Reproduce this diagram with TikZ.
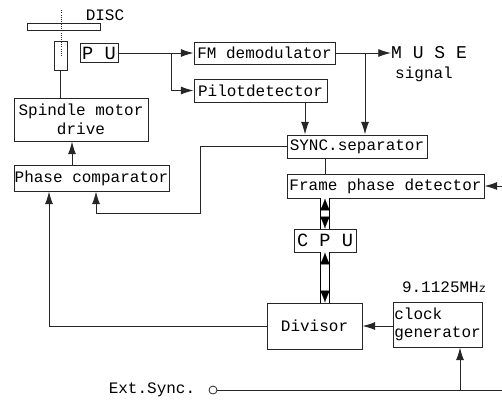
\documentclass[tikz,border=0pt]{standalone}
\usepackage{fontspec}
\setmainfont{Liberation Mono}
\usetikzlibrary{arrows.meta, positioning, calc}
\def\px{0.75pt} % one reference pixel
\begin{document}
\begin{tikzpicture}[
  x=0.75pt, y=-0.75pt,
  blockbox/.style={draw=black!85, line width=0.7pt, font=\fontsize{12}{14}\selectfont, inner sep=0pt, align=center},
  sigline/.style={draw=black!85, line width=0.7pt},
  sigarrow/.style={sigline, -{Latex[length=9.5pt, width=6pt]}},
  busrail/.style={draw=black, line width=0.8pt, double=white, double distance=6.6pt},
  bustip/.style={draw=white, line width=0.1pt, {Latex[black, length=9pt, width=7.4pt]}-{Latex[black, length=9pt, width=7.4pt]}},
  plainlabel/.style={font=\fontsize{12}{14}\selectfont, inner sep=0pt},
]
\useasboundingbox (0,0) rectangle (502,401);

% Disc and pickup
\node[draw=black!85, line width=0.7pt, inner sep=0pt, minimum width=73*\px, minimum height=7*\px] (disc) at (63.5,26.5) {};
\node[draw=black!85, line width=0.7pt, inner sep=0pt, minimum width=13*\px, minimum height=29*\px] (spindle) at (60.5,55.5) {};
\coordinate (axistop) at (61,10);
\coordinate (axisend) at (61,56);
\draw[sigline, densely dotted] (axistop) -- (axisend);
\node[plainlabel] (disclabel) at (105,15) {DISC};

% Blocks
\node[blockbox, minimum width=38*\px, minimum height=19*\px, font=\fontsize{14}{16}\selectfont] (pu) at (99,53) {P U};
\node[blockbox, minimum width=141*\px, minimum height=22*\px] (fm) at (264.5,53) {FM demodulator};
\node[blockbox, minimum width=133*\px, minimum height=23*\px] (pilot) at (260.5,90.5) {Pilotdetector};
\node[blockbox, minimum width=140*\px, minimum height=23*\px] (sync) at (357,146.5) {SYNC.separator};
\node[blockbox, minimum width=197*\px, minimum height=24*\px] (frame) at (385.5,186) {Frame phase detector};
\node[blockbox, minimum width=62*\px, minimum height=23*\px, font=\fontsize{14}{16}\selectfont] (cpu) at (325,240.5) {C P U};
\node[blockbox, minimum width=95*\px, minimum height=46*\px] (divisor) at (314.5,326) {Divisor};
\node[blockbox, minimum width=89*\px, minimum height=45*\px, align=left] (clock) at (437.5,324.5) {clock\\generator};
\node[blockbox, minimum width=134*\px, minimum height=43*\px] (motor) at (81,119.5) {Spindle motor\\drive};
\node[blockbox, minimum width=155*\px, minimum height=26*\px] (phase) at (91.5,178) {Phase comparator};

% Labels
\node[plainlabel, font=\fontsize{13.5}{16}\selectfont] (muse) at (429,53) {M U S E};
\node[plainlabel] (signal) at (424,74) {signal};
\node[plainlabel] (mhz) at (444,287) {9.1125MH{\fontsize{9}{10}\selectfont z}};
\node[plainlabel] (ext) at (152,390) {Ext.Sync.};
\node[circle, draw=black!85, line width=0.6pt, inner sep=0pt, minimum size=8*\px] (extin) at (213,390) {};

% Helper points
\coordinate (pubranch) at (171,53);
\coordinate (fmbranch) at (365,53);
\coordinate (pilotdown) at (305,102);
\coordinate (syncdown) at (325,158);
\coordinate (phaseup) at (72,165);
\coordinate (phasea) at (49,327);
\coordinate (phaseb) at (96,213);
\coordinate (phasec) at (200,213);
\coordinate (clkin) at (460,390);
\coordinate (extend) at (502,390);
\coordinate (frameext) at (502,186);

% Upper signal path
\draw[sigline] (spindle.south) -- (spindle.south |- motor.north);
\draw[sigarrow] (pu.east) -- (fm.west);
\draw[sigarrow] (pubranch) |- (pilot.west);
\draw[sigarrow] (fm.east) -- (muse.west);
\draw[sigarrow] (fmbranch) -- (fmbranch |- sync.north);
\draw[sigarrow] (pilotdown) -- (pilotdown |- sync.north);
\draw[sigline] (syncdown) -- (syncdown |- frame.north);
\draw[sigarrow] (frameext) -- (frame.east);

% Feedback to the motor
\draw[sigarrow] (phaseup) -- (phaseup |- motor.south);
\draw[sigarrow] (sync.west) -| (phasec) -- (phaseb) -- (phaseb |- phase.south);
\draw[sigarrow] (divisor.west) -| (phasea |- phase.south);

% Bus
\draw[busrail] (cpu.north) -- (cpu.north |- frame.south);
\draw[busrail] (cpu.south) -- (cpu.south |- divisor.north);
\draw[bustip] (cpu.north) -- (cpu.north |- frame.south);
\draw[bustip] (cpu.south) -- (cpu.south |- divisor.north);

% Clock
\draw[sigarrow] (clock.west |- divisor.east) -- (divisor.east);
\draw[sigline] (extin.east) -- (extend);
\draw[sigarrow] (clkin) -- (clkin |- clock.south);
\end{tikzpicture}
\end{document}
